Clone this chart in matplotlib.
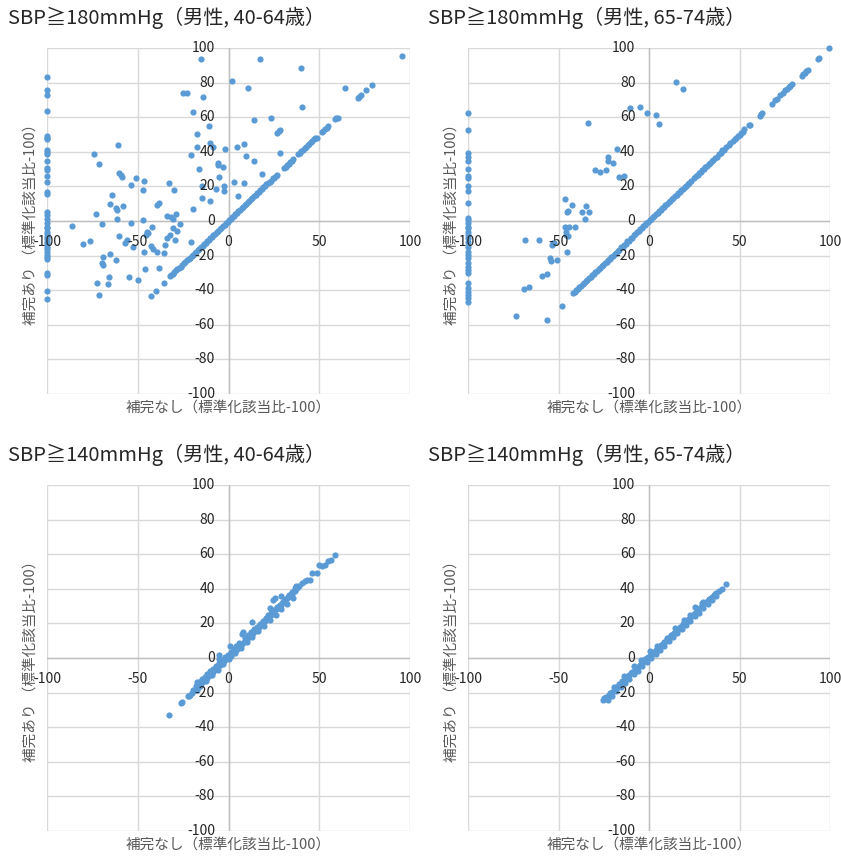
import numpy as np
import matplotlib
matplotlib.use("Agg")
import matplotlib.pyplot as plt

plt.rcParams["font.family"] = ["Noto Sans CJK JP", "DejaVu Sans"]

# %%
############### DATA ###############

titles = [
    "SBP≧180mmHg（男性, 40-64歳）",
    "SBP≧180mmHg（男性, 65-74歳）",
    "SBP≧140mmHg（男性, 40-64歳）",
    "SBP≧140mmHg（男性, 65-74歳）",
]
x_label = "補完なし（標準化該当比-100）"
y_label = "補完あり （標準化該当比-100）"
x_ticks = [-100, -50, 0, 50, 100]
y_ticks = [-100, -80, -60, -40, -20, 0, 20, 40, 60, 80, 100]

# --- SBP>=180, 40-64 ---
tl_edge_y = [83.0, 75.7, 72.8, 63.8, 49.1, 48.2, 47.2, 41.0, 39.7, 38.5,
             34.9, 30.8, 29.5, 26.0, 22.7, 16.9, 15.8, 5.2, 3.6, 1.3,
             -1.3, -3.3, -4.2, -6.2, -7.6, -9.0, -10.5, -12.0, -13.4, -14.9,
             -16.3, -17.7, -19.7, -21.0, -22.0, -30.2, -31.2, -40.3, -45.3]
tl_sc_x = [-14.9, 17.4, 95.8, 39.9, 2.1, 10.6, -25.1, -22.7, -13.9, 40.7,
           64.2, 71.2, 72.0, 72.8, 75.6, 78.9, -19.4, 14.2, 23.4, -17.2,
           -10.9, -10.2, -8.7, -1.9, 4.5, 8.7, 9.6, 14.2, -17.5, -20.8,
           -16.4, -6.0, -5.6, -2.9, -5.1, 26.9, 27.6, 28.4, 28.4, 18.6,
           3.0, 8.5, 5.4, -14.8, -2.3, -2.3, -6.9, -14.8, -10.2, -19.7,
           -73.9, -71.2, -61.0, -60.3, -59.4, -58.6, -51.0, -46.6, -47.3, -53.9,
           -64.4, -65.3, -62.0, -61.3, -58.3, -73.0, -61.4, -69.5, -86.4, -76.3,
           -80.0, -60.5, -57.0, -55.8, -53.9, -52.8, -47.3, -45.0, -45.5, -44.2,
           -42.3, -39.6, -38.1, -33.0, -29.9, -34.0, -31.7, -30.5, -29.2, -26.5,
           -28.2, -30.4, -32.2, -34.0, -29.5, -35.0, -35.5, -42.7, -41.4, -39.6,
           -46.6, -20.7, -65.3, -69.0, -69.9, -69.0, -62.0, -65.7, -66.4, -72.6,
           -71.2, -54.7, -50.0, -45.8, -38.3, -35.4, -40.1, -42.9]
tl_sc_y = [93.5, 93.5, 95.6, 88.3, 81.1, 77.1, 73.8, 73.8, 71.5, 66.1,
           76.7, 70.9, 71.8, 72.8, 75.7, 78.6, 62.8, 58.4, 59.7, 50.1,
           55.1, 44.9, 42.6, 41.6, 43.0, 44.5, 37.6, 34.9, 43.0, 38.2,
           29.9, 33.7, 32.4, 31.2, 25.3, 50.7, 51.8, 52.6, 39.5, 27.0,
           22.7, 21.8, 14.6, 20.4, 20.4, 17.5, 18.5, 13.5, 11.6, 6.8,
           38.7, 33.1, 43.8, 27.6, 26.4, 25.2, 24.9, 23.1, 18.1, 20.6,
           15.2, 9.6, 7.3, 6.4, 8.7, 3.9, 1.2, -1.7, -2.9, -11.6,
           -13.5, -8.7, -12.9, -11.0, -1.3, -15.2, 0.4, -6.2, -8.1, -7.1,
           -3.3, 9.2, 10.6, 21.8, 17.9, 3.1, 2.5, 1.0, 3.9, -1.7,
           -6.0, -4.0, -8.1, -10.0, -11.0, -13.9, -18.7, -14.5, -16.4, -17.7,
           -17.7, -12.3, -19.2, -20.6, -24.1, -25.4, -22.5, -32.3, -36.6, -35.7,
           -43.0, -32.6, -34.1, -27.9, -27.0, -35.7, -40.3, -43.4]
tl_dg_x = [-32.4, -31.5, -30.6, -29.8, -29.0, -28.1, -27.2, -26.3, -25.5, -24.6,
           -23.7, -22.9, -22.0, -21.1, -20.3, -19.4, -18.6, -17.7, -16.9, -16.0,
           -15.1, -14.3, -13.4, -12.6, -11.7, -10.8, -10.0, -9.1, -8.3, -7.4,
           -6.5, -5.7, -4.8, -4.0, -3.1, -2.2, -1.4, -0.5, 0.3, 1.2,
           2.0, 2.9, 3.8, 4.6, 5.5, 6.3, 7.2, 8.1, 8.9, 9.8,
           10.6, 11.5, 12.3, 13.2, 14.1, 14.9, 15.8, 16.6, 17.5, 18.4,
           19.2, 20.1, 20.9, 21.8, 22.6, 23.5, 24.4, 25.2, 26.1, 26.6,
           30.7, 31.6, 32.4, 33.3, 34.1, 35.0, 35.7, 38.5, 39.3, 40.2,
           41.0, 41.9, 42.7, 43.6, 44.4, 45.3, 46.1, 47.0, 47.8, 48.6,
           51.3, 52.2, 53.1, 54.1, 55.0, 58.7, 59.4, 60.2]
tl_dg_y = [-31.8, -31.2, -30.4, -29.5, -28.6, -27.9, -27.0, -26.4, -25.3, -24.4,
           -23.8, -22.6, -21.8, -21.2, -20.1, -19.5, -18.4, -17.8, -16.7, -16.1,
           -15.0, -14.4, -13.2, -12.7, -11.5, -10.9, -9.8, -9.2, -8.1, -7.5,
           -6.3, -5.8, -4.6, -4.1, -2.9, -2.3, -1.2, -0.6, 0.5, 1.1,
           2.2, 2.8, 4.0, 4.5, 5.7, 6.2, 7.4, 8.0, 9.1, 9.7,
           10.8, 11.4, 12.5, 13.1, 14.3, 14.8, 16.0, 16.5, 17.7, 18.3,
           19.4, 20.0, 21.1, 21.7, 22.8, 23.4, 24.6, 25.1, 26.3, 26.7,
           30.9, 31.5, 32.6, 33.2, 34.3, 34.9, 35.9, 38.7, 39.2, 40.4,
           40.9, 42.1, 42.6, 43.8, 44.3, 45.5, 46.0, 47.2, 47.7, 48.2,
           51.5, 52.1, 53.3, 54.0, 55.2, 59.0, 59.4, 59.8]

# --- SBP>=180, 65-74 ---
tr_edge_y = [62.2, 52.6, 39.5, 37.2, 34.9, 29.9, 26.0, 24.7, 20.2, 17.5,
             10.6, 1.9, 0.6, -1.3, -3.3, -4.2, -6.2, -8.1, -10.0, -12.0,
             -14.9, -17.7, -19.7, -21.6, -24.5, -26.4, -28.3, -30.2, -36.0, -38.9,
             -40.9, -42.8, -44.7, -46.6]
tr_sc_x = [15.1, 18.8, -10.5, -5.0, -1.3, 4.0, 5.3, -33.5, -17.5, -22.8,
           -22.5, -19.7, -23.9, -27.1, -29.8, -16.4, -13.8, -46.4, -45.5, -45.0,
           -42.4, -34.8, -33.0, -37.2, -35.2, -46.4, -44.0, -40.9, -45.9, -45.9,
           -44.6, -53.2, -53.8, -60.8, -68.3, -45.5, -54.7, -54.4, -50.7, -56.5,
           -58.9, -66.1, -68.9, -73.5, -56.2, -47.9, -52.6]
tr_sc_y = [80.3, 76.5, 65.1, 66.0, 62.4, 61.1, 55.9, 56.5, 41.6, 36.8,
           34.9, 33.3, 29.5, 28.1, 29.5, 25.6, 26.0, 12.5, 5.0, 5.6,
           9.2, 8.8, 5.0, 5.0, 1.2, -3.7, -3.5, -3.3, -6.1, -7.9,
           -8.5, -12.6, -13.8, -10.7, -11.0, -17.9, -21.6, -23.1, -22.5, -30.8,
           -32.0, -37.9, -39.3, -54.7, -57.2, -49.2, -12.9]
tr_dg_x = [-41.9, -41.0, -40.2, -39.3, -38.4, -37.5, -36.6, -35.8, -34.9, -34.0,
           -33.1, -32.2, -31.4, -30.5, -29.6, -28.7, -27.8, -27.0, -26.1, -25.2,
           -24.3, -23.4, -22.6, -21.7, -20.8, -19.9, -19.0, -18.2, -17.3, -16.4,
           -15.5, -14.6, -13.8, -12.9, -12.0, -11.1, -10.2, -9.4, -8.5, -7.6,
           -6.7, -5.8, -5.0, -4.1, -3.2, -2.3, -1.4, -0.6, 0.3, 1.2,
           2.1, 3.0, 3.8, 4.7, 5.6, 6.5, 7.4, 8.2, 9.1, 10.0,
           10.9, 11.8, 12.6, 13.5, 14.4, 15.3, 16.2, 17.0, 17.9, 18.8,
           19.7, 20.6, 21.4, 22.3, 23.2, 25.0, 25.9, 26.8, 27.6, 28.5,
           29.4, 30.3, 31.2, 32.0, 32.9, 33.8, 34.7, 35.6, 36.4, 37.3,
           38.8, 39.7, 40.6, 41.5, 42.4, 44.0, 44.9, 46.5, 47.4, 48.3,
           49.2, 50.1, 50.9, 51.8, 52.7, 55.5, 55.9, 61.2, 61.8, 62.5,
           67.8, 69.6, 70.6, 72.4, 74.2, 75.4, 76.3, 77.2, 78.1, 78.9,
           84.4, 85.2, 86.0, 86.9, 87.7, 93.5, 94.0, 99.6]
tr_dg_y = [-41.4, -41.2, -40.0, -39.5, -38.2, -37.7, -36.4, -36.0, -34.7, -34.2,
           -32.9, -32.4, -31.2, -30.7, -29.4, -28.9, -27.6, -27.2, -25.9, -25.4,
           -24.1, -23.6, -22.4, -21.9, -20.6, -20.1, -18.8, -18.4, -17.1, -16.6,
           -15.3, -14.8, -13.6, -13.1, -11.8, -11.3, -10.0, -9.6, -8.3, -7.8,
           -6.5, -6.0, -4.8, -4.3, -3.0, -2.5, -1.2, -0.8, 0.5, 1.0,
           2.3, 2.8, 4.0, 4.5, 5.8, 6.3, 7.6, 8.0, 9.3, 9.8,
           11.1, 11.6, 12.8, 13.3, 14.6, 15.1, 16.4, 16.8, 18.1, 18.6,
           19.9, 20.4, 21.6, 22.1, 23.4, 24.8, 26.1, 26.6, 27.8, 28.3,
           29.6, 30.1, 31.4, 31.8, 33.1, 33.6, 34.9, 35.4, 36.6, 37.1,
           39.0, 39.5, 40.8, 41.3, 42.6, 43.8, 45.1, 46.3, 47.6, 48.1,
           49.4, 49.9, 51.1, 51.6, 52.9, 55.5, 55.7, 60.9, 61.6, 62.3,
           67.6, 69.8, 70.3, 72.6, 74.0, 75.6, 76.1, 77.4, 78.3, 79.1,
           83.8, 84.9, 85.8, 86.7, 87.3, 93.6, 94.0, 99.8]

# --- SBP>=140, 40-64 ---
bl_x = [-32.9, -25.9, -25.4, -22.2, -21.6, -21.3, -20.2, -19.3, -18.5, -17.6,
        -17.3, -16.8, -16.0, -15.2, -14.4, -13.6, -12.8, -12.0, -11.2, -10.4,
        -9.6, -8.8, -8.0, -7.2, -6.4, -5.6, -5.1, -5.1, -4.8, -4.0,
        -3.2, -2.4, -1.6, -0.8, 0.0, 0.7, 0.8, 1.6, 2.4, 3.2,
        4.0, 4.8, 5.6, 6.4, 7.2, 7.6, 8.1, 8.8, 9.6, 10.4,
        11.2, 12.0, 12.7, 12.8, 13.6, 14.4, 15.2, 16.0, 16.8, 17.6,
        18.4, 19.2, 20.0, 20.8, 21.6, 22.4, 22.8, 23.2, 24.0, 24.6,
        24.8, 25.6, 26.4, 27.2, 28.0, 28.8, 28.9, 29.6, 30.4, 31.2,
        32.0, 32.8, 33.6, 34.4, 35.2, 36.0, 36.6, 37.1, 37.8, 38.6,
        40.3, 42.1, 43.0, 44.9, 45.8, 48.5, 50.0, 51.3, 53.1, 55.0,
        56.3, 58.6]
bl_y = [-33.1, -26.0, -25.6, -22.2, -21.9, -21.4, -20.4, -18.6, -18.3, -18.3,
        -13.9, -16.5, -15.2, -14.9, -13.5, -13.2, -11.8, -11.6, -10.2, -9.9,
        -8.5, -8.3, -7.1, -6.6, -5.4, -5.0, -0.6, 1.5, -3.9, -3.5,
        -2.3, -1.8, -0.7, 0.1, 0.9, 6.7, 1.8, 1.4, 3.2, 3.3,
        4.6, 5.3, 6.5, 6.9, 8.1, 14.1, 14.8, 9.5, 10.4, 11.1,
        12.2, 12.9, 20.6, 13.9, 14.5, 15.6, 16.2, 17.4, 17.9, 19.2,
        19.8, 21.0, 21.4, 22.7, 23.1, 24.3, 28.9, 24.8, 26.0, 33.7,
        26.5, 34.7, 28.4, 29.0, 30.2, 30.8, 36.0, 32.0, 32.7, 33.7,
        34.5, 35.4, 36.2, 37.1, 38.0, 38.6, 40.5, 41.4, 40.7, 41.5,
        43.4, 44.3, 44.9, 45.3, 49.1, 49.1, 53.9, 53.4, 53.9, 55.9,
        56.5, 59.3]
bl_band_x = [-18.0, -16.4, -14.8, -13.2, -11.6, -10.0, -8.4, -6.8, -5.2, -3.6,
             -2.0, -0.4, 1.2, 2.8, 4.4, 6.0, 9.2, 10.8, 12.4, 14.0,
             15.6, 17.2, 18.8, 20.4, 22.0, 23.6, 25.2, 26.8, 28.4, 30.0,
             31.6, 33.2, 34.8, 36.4,
             -15.6, -12.4, -9.2, -6.0, -2.8, 0.4, 3.6, 6.8, 10.0, 13.2,
             16.4, 19.6, 22.8, 26.0, 29.2, 32.4, 35.6]
bl_band_y = [-16.0, -14.0, -12.3, -10.9, -9.2, -7.6, -6.1, -4.4, -2.9, -1.2,
             0.3, 2.0, 3.5, 5.3, 6.8, 8.5, 11.8, 13.2, 15.0, 16.5,
             18.1, 19.8, 21.3, 23.0, 24.6, 26.1, 27.8, 29.4, 30.9, 32.6,
             34.1, 35.7, 37.2, 38.9,
             -16.4, -13.2, -10.1, -6.8, -3.6, -0.5, 2.7, 6.0, 9.1, 12.3,
             15.6, 18.7, 22.0, 25.1, 28.4, 31.5, 34.8]

# --- SBP>=140, 65-74 ---
br_x = [-25.4, -25.0, -24.3, -23.5, -22.2, -21.3, -20.6, -19.5, -18.8, -18.0,
        -17.2, -16.4, -15.6, -14.8, -14.0, -13.2, -12.4, -11.6, -10.8, -10.0,
        -9.2, -8.5, -7.6, -6.8, -6.0, -5.2, -4.4, -3.6, -2.8, -2.0,
        -1.2, -0.4, 0.4, 0.7, 1.2, 2.0, 2.8, 3.6, 4.4, 5.2,
        6.0, 6.8, 7.6, 8.4, 9.2, 9.9, 10.8, 11.6, 12.4, 13.2,
        14.0, 14.5, 15.6, 16.4, 17.2, 18.0, 18.8, 19.1, 20.4, 21.2,
        22.0, 22.8, 23.6, 24.4, 25.2, 25.6, 26.5, 27.2, 28.0, 28.8,
        29.2, 30.1, 30.8, 31.6, 32.4, 33.2, 34.0, 34.8, 35.7, 36.4,
        37.2, 38.4, 40.3, 42.6]
br_y = [-24.1, -23.3, -23.6, -22.4, -21.2, -20.2, -19.7, -16.8, -18.2, -16.9,
        -16.5, -15.2, -14.8, -13.5, -10.6, -12.3, -11.4, -10.6, -9.8, -8.7,
        -8.2, -4.8, -6.8, -5.6, -5.1, -4.0, -1.0, -2.5, -1.8, -0.8,
        -0.2, 0.6, 1.3, 3.9, 1.9, 2.7, 3.6, 4.4, 6.7, 5.9,
        6.7, 7.4, 8.3, 9.1, 9.8, 11.6, 11.5, 12.3, 13.1, 13.8,
        14.6, 17.3, 16.3, 17.0, 17.9, 18.7, 19.5, 22.2, 21.0, 21.9,
        22.8, 25.0, 24.2, 25.1, 26.0, 29.5, 27.2, 27.9, 28.7, 29.5,
        31.8, 32.2, 31.7, 32.3, 33.1, 33.9, 34.6, 35.3, 36.6, 37.0,
        37.8, 38.5, 39.9, 42.8]
br_band_x = [-22.8, -20.4, -18.0, -15.6, -13.2, -10.8, -8.4, -6.0, -3.6, -1.2,
             1.2, 3.6, 6.0, 8.4, 10.8, 13.2, 15.6, 18.0, 20.4, 22.8,
             25.2, 27.6, 30.0, 32.4, 34.8, 37.2]
br_band_y = [-24.0, -21.7, -19.1, -16.9, -14.3, -12.1, -9.5, -7.3, -4.7, -2.5,
             0.1, 2.3, 4.9, 7.1, 9.7, 11.9, 14.5, 16.7, 19.3, 21.5,
             24.1, 26.3, 28.9, 31.1, 33.6, 35.9]

# %%
############### FIGURE ###############

W, H = 841, 857
DOT = "#5B9BD5"
GRID = "#D9D9D9"
AXIS = "#BFBFBF"

fig = plt.figure(figsize=(W / 100, H / 100), dpi=100)

# plot-area boxes in pixels: left, top, right, bottom
boxes = [(47, 48, 410, 394), (468, 48, 830, 394),
         (47, 485, 410, 831), (468, 485, 830, 831)]
title_pos = [(8, 18), (428, 18), (8, 455), (428, 455)]

panels = [
    (tl_edge_y, tl_sc_x + tl_dg_x, tl_sc_y + tl_dg_y),
    (tr_edge_y, tr_sc_x + tr_dg_x, tr_sc_y + tr_dg_y),
    ([], bl_x + bl_band_x, bl_y + bl_band_y),
    ([], br_x + br_band_x, br_y + br_band_y),
]


def style_ax(ax):
    ax.set_xlim(-100, 100)
    ax.set_ylim(-100, 100)
    for s in ax.spines.values():
        s.set_visible(False)
    ax.set_xticks([])
    ax.set_yticks([])
    ax.patch.set_alpha(0)
    for y in y_ticks:
        ax.axhline(y, color=GRID, lw=1, zorder=0)
    for x in x_ticks:
        ax.axvline(x, color=GRID, lw=1, zorder=0)
    ax.axhline(0, color=AXIS, lw=1, zorder=1)
    ax.axvline(0, color=AXIS, lw=1, zorder=1)
    for y in y_ticks:
        ax.text(-7.5, y, str(y), ha="right", va="center", fontsize=10,
                color="#262626", zorder=4)
    for x in x_ticks:
        ax.text(x, -12, str(x), ha="center", va="center", fontsize=10,
                color="#262626", zorder=4)


for i, (l, t, r, b) in enumerate(boxes):
    ax = fig.add_axes([l / W, 1 - b / H, (r - l) / W, (b - t) / H])
    style_ax(ax)
    edge_y, xs, ys = panels[i]
    if len(edge_y):
        ax.scatter(np.full(len(edge_y), -100.0), edge_y, s=20, color=DOT,
                   linewidths=0, zorder=3, clip_on=False)
    ax.scatter(xs, ys, s=20, color=DOT, linewidths=0, zorder=3, clip_on=False)

    tx, ty = title_pos[i]
    fig.text(tx / W, 1 - ty / H, titles[i], ha="left", va="center",
             fontsize=14.5, color="#262626")
    fig.text((l + r) / 2 / W, 1 - (b + 14) / H, x_label, ha="center",
             va="center", fontsize=10.5, color="#595959")
    fig.text((l - 16) / W, 1 - (t + b) / 2 / H, y_label, ha="center",
             va="center", rotation=90, fontsize=10.5, color="#595959")

fig.savefig("out.png", dpi=100, facecolor="white")
